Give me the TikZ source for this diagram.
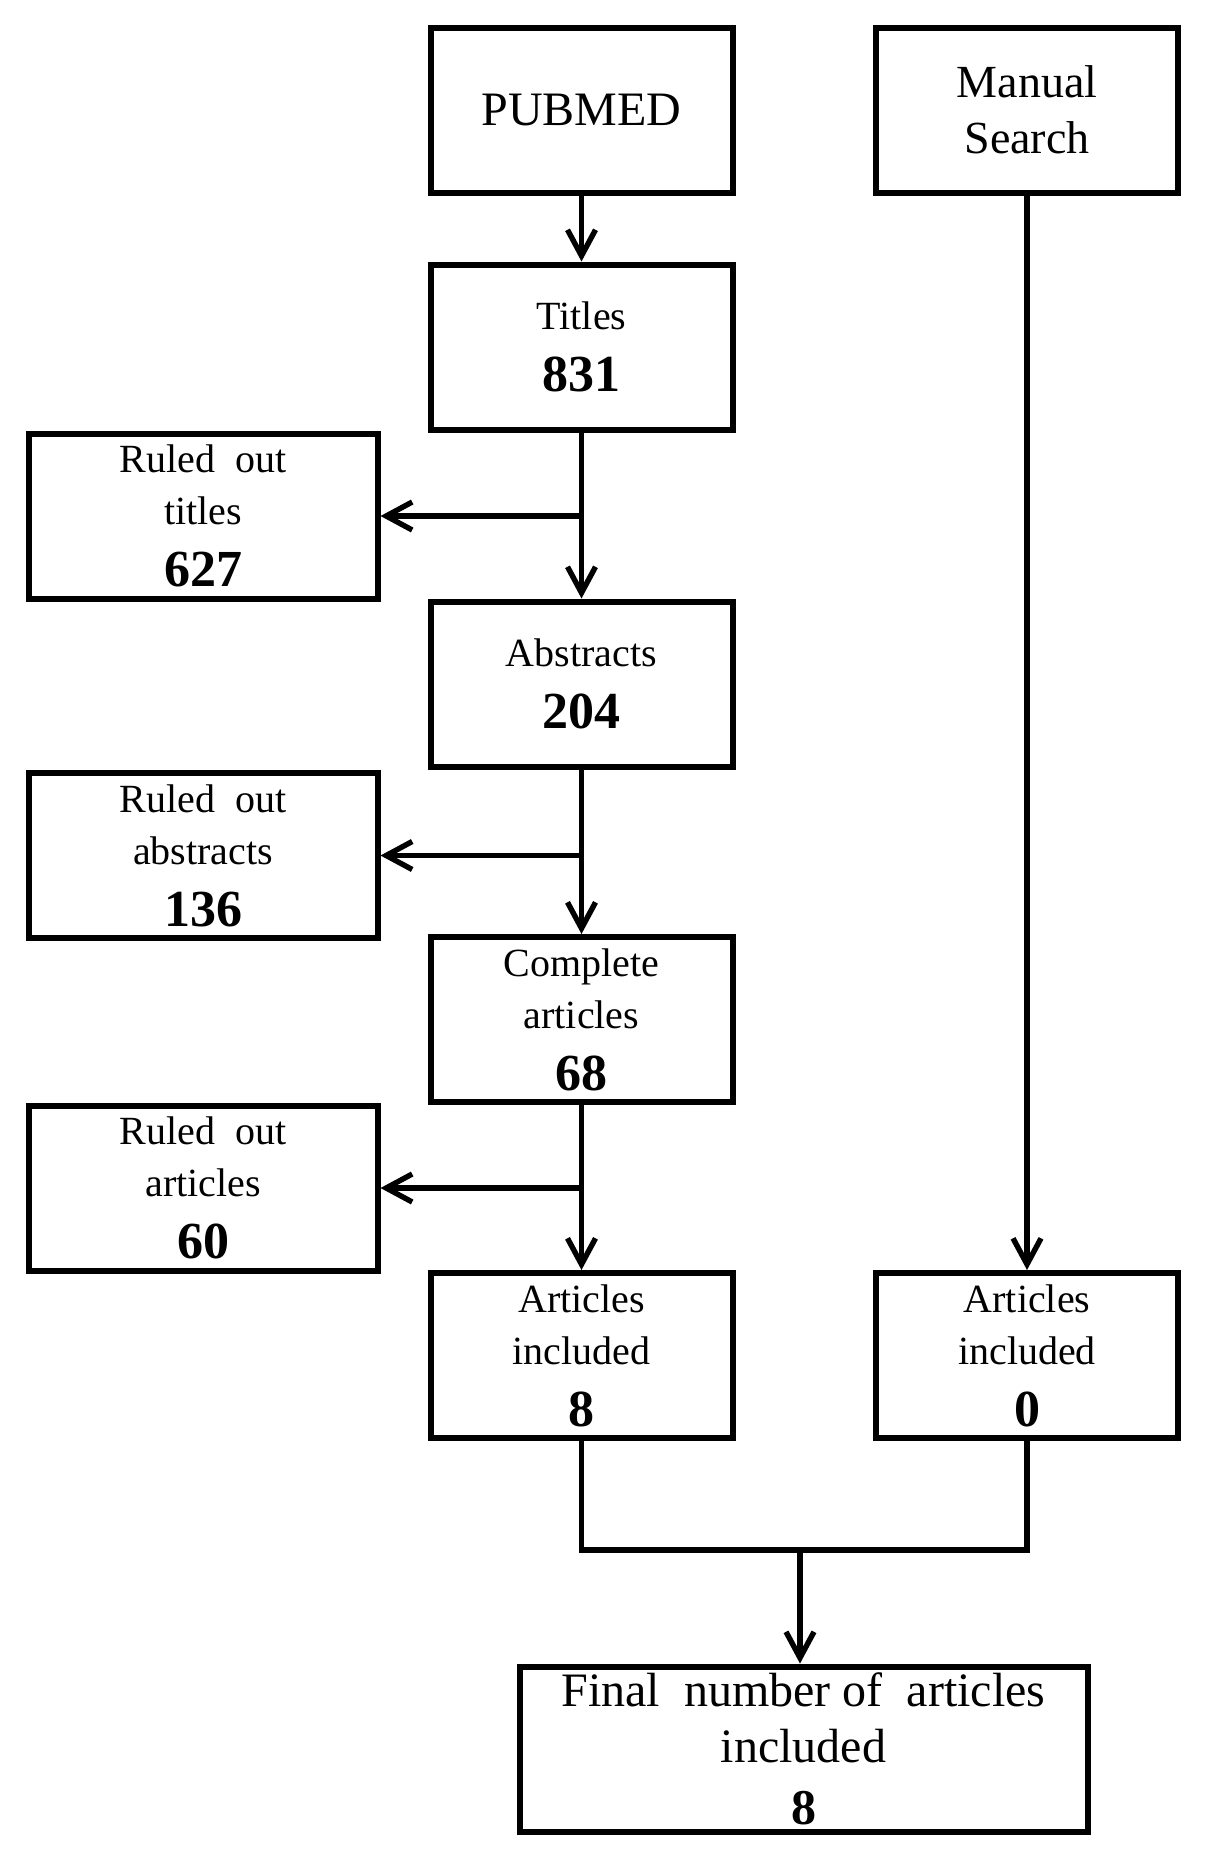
\documentclass[tikz,border=0pt]{standalone}
\usepackage{fontspec}
\setmainfont{Liberation Serif}
\usetikzlibrary{arrows.meta}
\begin{document}
\begin{tikzpicture}[x=0.5pt,y=-0.5pt,
  box/.style={draw=black, line width=3pt, rectangle, inner sep=0pt, align=center,
    minimum height=82.5pt, font=\fontsize{20}{26}\selectfont},
  mainbox/.style={box, minimum width=151pt},
  sidebox/.style={box, minimum width=174.5pt},
  conn/.style={line width=2.7pt},
  arr/.style={conn, -{Straight Barb[length=13pt,width=14pt]}}
]
\useasboundingbox (0,0) rectangle (1205,1858);
\newcommand{\numtxt}[1]{{\fontsize{26}{31}\selectfont\bfseries #1}}

\node[mainbox, font=\fontsize{24}{28}\selectfont] (pubmed) at (581.5,110) {PUBMED};
\node[mainbox, font=\fontsize{23}{28}\selectfont] (manual) at (1027,110) {Manual\\Search};
\node[mainbox] (titles) at (581.5,347) {Titles\\[5pt]\numtxt{831}};
\node[sidebox] (rtitles) at (203,516) {Ruled\ \ out\\titles\\[5pt]\numtxt{627}};
\node[mainbox] (abstracts) at (581.5,684) {Abstracts\\[5pt]\numtxt{204}};
\node[sidebox] (rabstracts) at (203,855.5) {Ruled\ \ out\\abstracts\\[5pt]\numtxt{136}};
\node[mainbox] (complete) at (581.5,1019.5) {Complete\\articles\\[5pt]\numtxt{68}};
\node[sidebox] (rarticles) at (203,1188) {Ruled\ \ out\\articles\\[5pt]\numtxt{60}};
\node[mainbox] (incl) at (581.5,1355.5) {Articles\\included\\[5pt]\numtxt{8}};
\node[mainbox] (mincl) at (1027,1355.5) {Articles\\included\\[5pt]\numtxt{0}};
\node[box, minimum width=284pt, font=\fontsize{24}{28}\selectfont] (final) at (803.5,1749)
  {Final\ \ number of\ \ articles\\included\\[3pt]{\fontsize{25}{30}\selectfont\bfseries 8}};

\coordinate (j1) at (titles.south |- rtitles.east);
\coordinate (j2) at (abstracts.south |- rabstracts.east);
\coordinate (j3) at (complete.south |- rarticles.east);
\coordinate (jm) at (800,1550);

\draw[arr] (pubmed) -- (titles);
\draw[arr] (titles) -- (abstracts);
\draw[arr] (j1) -- (rtitles.east);
\draw[arr] (abstracts) -- (complete);
\draw[arr] (j2) -- (rabstracts.east);
\draw[arr] (complete) -- (incl);
\draw[arr] (j3) -- (rarticles.east);
\draw[arr] (manual) -- (mincl);
\draw[conn] (incl.south) -- (incl.south |- jm) -- (mincl.south |- jm) -- (mincl.south);
\draw[arr] (jm) -- (final.north -| jm);
\end{tikzpicture}
\end{document}
